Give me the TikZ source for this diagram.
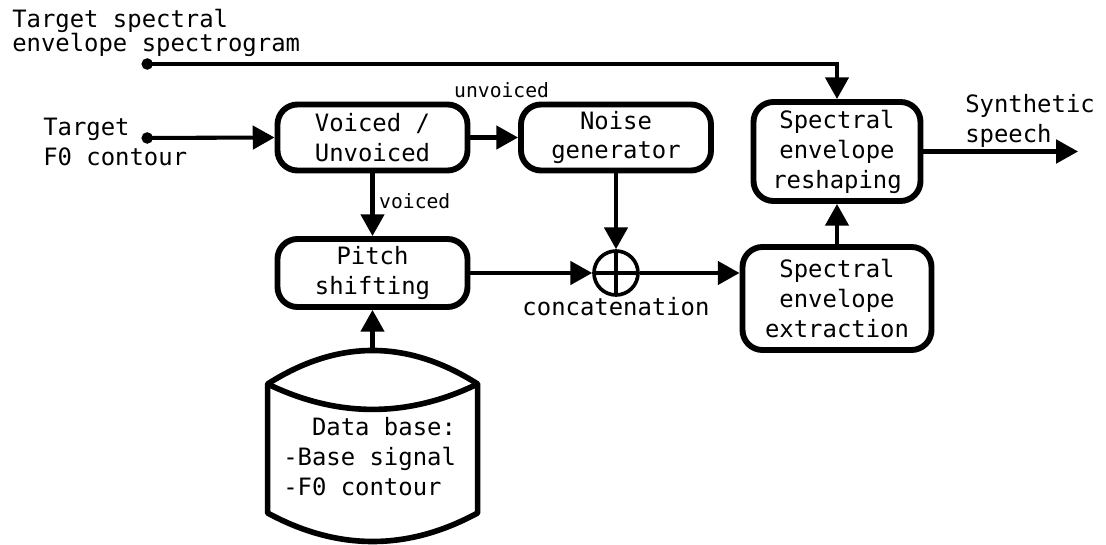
\documentclass[tikz,border=0pt]{standalone}
\usepackage{fontspec}
\setmonofont{DejaVu Sans Mono}
\usetikzlibrary{positioning,arrows.meta}
\newcommand{\dbindent}{\hphantom{xx}}

\begin{document}
\begin{tikzpicture}[
  >={Triangle[length=15.5pt,width=16.5pt]},
  every node/.style={font=\ttfamily\fontsize{17}{21.3}\selectfont},
  block/.style={draw, line width=4.2pt, rounded corners=0.5cm, align=center, inner sep=0pt},
  flow/.style={line width=2.9pt},
  srcdot/.style={{Circle[length=8pt]}->},
  tag/.style={font=\ttfamily\fontsize{14}{17}\selectfont},
  sumnode/.style={draw, circle, line width=2.6pt, minimum size=1.1cm, inner sep=0pt},
  dbline/.style={line width=4pt, line join=round}
]
  \useasboundingbox (0,0) rectangle (27.65,13.625);

  % processing blocks
  \node[block, minimum width=4.75cm, minimum height=1.65cm] (vu) at (9.3125,10.1875) {Voiced /\\Unvoiced};
  \node[block, minimum width=4.75cm, minimum height=1.65cm] (noise) at (15.4,10.1875) {Noise\\generator};
  \node[block, minimum width=4.75cm, minimum height=1.7cm] (pitch) at (9.3125,6.8) {Pitch\\shifting};
  \node[sumnode] (sum) at (15.4,6.8) {};
  \node[below=0pt of sum, inner sep=0.5pt] (sumLbl) {concatenation};
  \node[block, minimum width=4.725cm, minimum height=2.575cm] (ext) at (20.925,6.1625) {Spectral\\envelope\\extraction};
  \node[block, minimum width=4.175cm, minimum height=2.475cm] (resh) at (20.925,9.8375) {Spectral\\envelope\\reshaping};

  % inputs and output
  \node[anchor=west, inner sep=0pt, align=left, font=\ttfamily\fontsize{17}{16.4}\selectfont] (envLbl) at (0.3,12.8) {Target spectral\\envelope spectrogram};
  \node[anchor=west, inner sep=0pt, align=left] (f0Lbl) at (1.075,10.075) {Target\\F0 contour};
  \node[anchor=west, inner sep=0pt, align=left] (outLbl) at (24.125,10.6) {Synthetic\\speech};
  \node[tag] (unvLbl) at (12.54,11.375) {unvoiced};
  \coordinate (envIn) at (3.54,12.025);
  \coordinate (f0In) at (3.54,10.175);
  \coordinate (speechOut) at (26.95,9.8375);

  % data base
  \draw[dbline] (6.69,4.025) .. controls (8.44,5.142) and (10.19,5.142) .. (11.94,4.025)
    -- (11.94,0.8) .. controls (10.19,-0.15) and (8.44,-0.15) .. (6.69,0.8) -- cycle;
  \draw[dbline] (6.69,4.025) .. controls (8.44,3.178) and (10.19,3.178) .. (11.94,4.025);
  \node[anchor=west, inner sep=0pt, align=left] (db) at (7.075,2.2) {\dbindent Data base:\\-Base signal\\-F0 contour};
  \coordinate (dbTop) at (9.3125,4.8625);

  % plus sign
  \draw[line width=2.4pt, shorten <=3pt, shorten >=3pt] (sum.north) -- (sum.south);
  \draw[line width=2.4pt, shorten <=3pt, shorten >=3pt] (sum.west) -- (sum.east);

  \path[flow, ->]
    (vu) edge (noise)
    (vu) edge node[right, tag, pos=0.45] {voiced} (pitch)
    (noise) edge (sum)
    (pitch) edge (sum)
    (dbTop) edge (pitch)
    (ext) edge (resh)
    (resh) edge (speechOut);
  \draw[flow, ->] (sum.east) -- (sum.east -| ext.west);
  \draw[flow, srcdot] (f0In) -- (vu.west);
  \draw[flow, srcdot] (envIn) -| (resh.north);
\end{tikzpicture}
\end{document}
